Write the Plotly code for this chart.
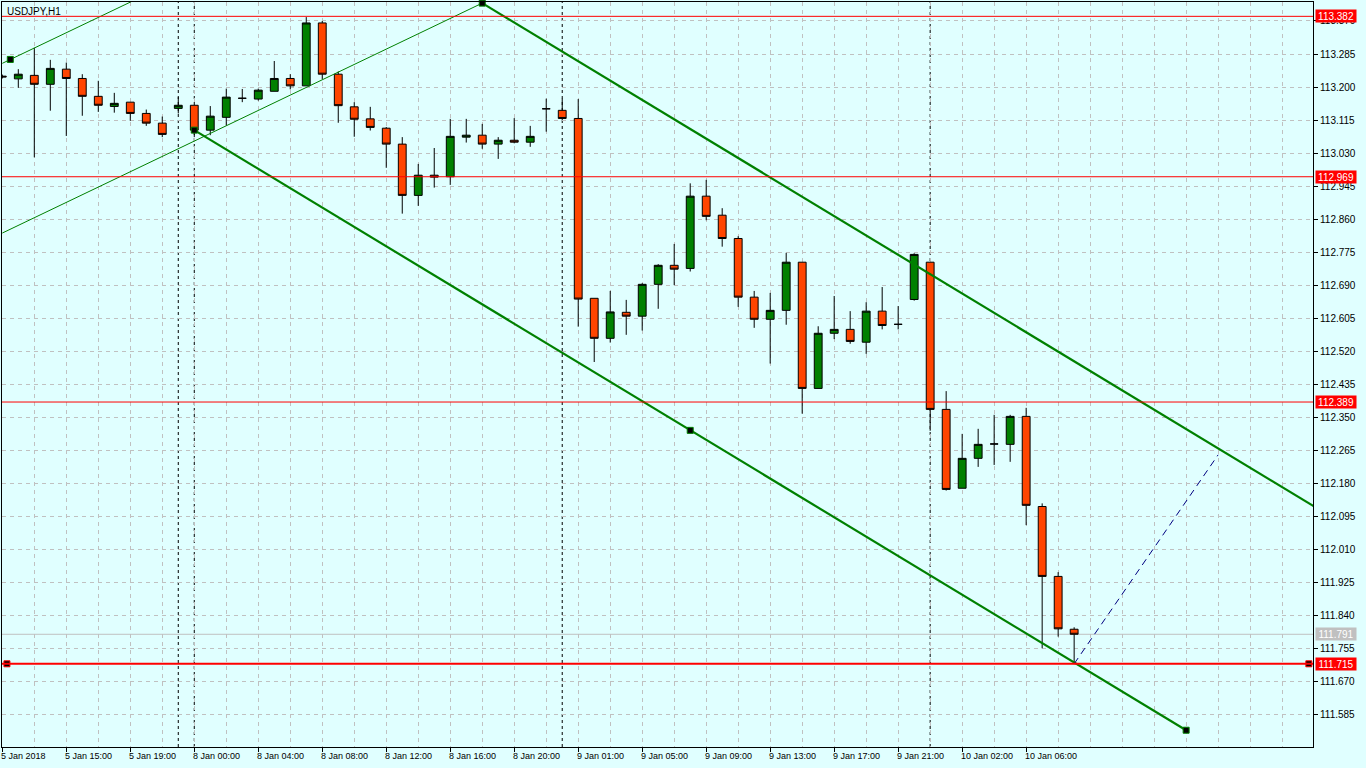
import plotly.graph_objects as go

# ---------------- data ----------------
symbol_title = "USDJPY,H1"

opens = [113.228, 113.221, 113.230, 113.207, 113.246, 113.222, 113.176, 113.150, 113.161, 113.132,
         113.107, 113.145, 113.153, 113.089, 113.122, 113.171, 113.169, 113.189, 113.222, 113.203,
         113.365, 113.233, 113.149, 113.118, 113.094, 113.053, 112.921, 112.973, 112.969, 113.071,
         113.076, 113.053, 113.063, 113.058, 113.144, 113.140, 113.119, 112.656, 112.553, 112.620,
         112.610, 112.692, 112.741, 112.733, 112.919, 112.870, 112.810, 112.659, 112.602, 112.625,
         112.749, 112.424, 112.566, 112.576, 112.543, 112.623, 112.589, 112.653, 112.749, 112.370,
         112.167, 112.244, 112.281, 112.280, 112.352, 112.120, 111.940, 111.804]
highs = [113.232, 113.246, 113.301, 113.270, 113.263, 113.233, 113.216, 113.185, 113.161, 113.142,
         113.124, 113.174, 113.153, 113.151, 113.196, 113.195, 113.196, 113.267, 113.233, 113.380,
         113.370, 113.240, 113.161, 113.149, 113.097, 113.071, 113.002, 113.043, 113.118, 113.118,
         113.105, 113.071, 113.120, 113.100, 113.170, 113.170, 113.169, 112.656, 112.675, 112.652,
         112.695, 112.744, 112.796, 112.952, 112.961, 112.888, 112.816, 112.675, 112.670, 112.773,
         112.749, 112.584, 112.662, 112.623, 112.646, 112.685, 112.636, 112.772, 112.749, 112.417,
         112.307, 112.320, 112.356, 112.356, 112.374, 112.128, 111.951, 111.809]
lows = [113.222, 113.198, 113.019, 113.139, 113.074, 113.126, 113.136, 113.134, 113.113, 113.100,
        113.071, 113.132, 113.071, 113.076, 113.101, 113.161, 113.165, 113.189, 113.194, 113.203,
        113.220, 113.108, 113.072, 113.088, 112.992, 112.874, 112.894, 112.941, 112.948, 113.057,
        113.041, 113.015, 113.055, 113.046, 113.085, 113.115, 112.583, 112.492, 112.542, 112.562,
        112.573, 112.629, 112.690, 112.725, 112.857, 112.789, 112.634, 112.580, 112.488, 112.588,
        112.359, 112.424, 112.551, 112.539, 112.513, 112.576, 112.576, 112.650, 112.315, 112.161,
        112.167, 112.222, 112.227, 112.235, 112.072, 111.755, 111.785, 111.714]
closes = [113.226, 113.233, 113.207, 113.248, 113.222, 113.176, 113.153, 113.158, 113.132, 113.107,
          113.078, 113.153, 113.089, 113.125, 113.174, 113.171, 113.192, 113.222, 113.203, 113.365,
          113.233, 113.152, 113.117, 113.096, 113.053, 112.921, 112.973, 112.968, 113.073, 113.076,
          113.053, 113.063, 113.058, 113.073, 113.144, 113.119, 112.654, 112.553, 112.621, 112.610,
          112.692, 112.741, 112.731, 112.919, 112.867, 112.810, 112.659, 112.602, 112.625, 112.749,
          112.424, 112.566, 112.576, 112.545, 112.623, 112.586, 112.589, 112.769, 112.370, 112.164,
          112.244, 112.280, 112.281, 112.352, 112.123, 111.940, 111.805, 111.791]
bar_index = list(range(len(opens)))

# time axis labels (bar index -> label)
time_tick_index = [0, 4, 8, 12, 16, 20, 24, 28, 32, 36, 40, 44, 48, 52, 56, 60, 64]
time_tick_labels = ["5 Jan 2018", "5 Jan 15:00", "5 Jan 19:00", "8 Jan 00:00", "8 Jan 04:00",
                    "8 Jan 08:00", "8 Jan 12:00", "8 Jan 16:00", "8 Jan 20:00", "9 Jan 01:00",
                    "9 Jan 05:00", "9 Jan 09:00", "9 Jan 13:00", "9 Jan 17:00", "9 Jan 21:00",
                    "10 Jan 02:00", "10 Jan 06:00"]

# price axis labels
price_ticks = [111.585, 111.670, 111.755, 111.840, 111.925, 112.010, 112.095, 112.180, 112.265,
               112.350, 112.435, 112.520, 112.605, 112.690, 112.775, 112.860, 112.945, 113.030,
               113.115, 113.200, 113.285, 113.370]

# horizontal levels
red_levels = [113.382, 112.969, 112.389]
support_level = 111.715
bid_price = 111.791

# vertical separators (bar index)
separator_index = [11, 12, 35, 58]

# trend lines / channels (bar index, price)
thin_low_x, thin_low_y = [0, 30], [112.824, 113.416]
thin_up_x, thin_up_y = [0, 10], [113.261, 113.458]
chan_up_x, chan_up_y = [30, 82], [113.416, 112.120]
chan_low_x, chan_low_y = [12, 74], [113.089, 111.544]
anchor_x = [0.5, 12, 43, 74, 30]
anchor_y = [113.271, 113.089, 112.316, 111.544, 113.416]
proj_x, proj_y = [67, 76], [111.715, 112.253]
handle_x = [0.29, 81.67]

x_range = [-0.019, 81.93]
y_range = [111.5008, 113.4189]

# ---------------- styling ----------------
BG = "#E0FFFF"
GRID = "#C0C0C0"
GREEN = "#008000"
RED_BODY = "#FF4500"
FONT = "Liberation Sans"

fig = go.Figure()

fig.add_trace(go.Candlestick(
    x=bar_index, open=opens, high=highs, low=lows, close=closes,
    increasing=dict(fillcolor=GREEN, line=dict(color="black", width=1)),
    decreasing=dict(fillcolor=RED_BODY, line=dict(color="black", width=1)),
    whiskerwidth=0, showlegend=False, hoverinfo="skip",
))

# trend lines
fig.add_trace(go.Scatter(x=thin_low_x, y=thin_low_y, mode="lines",
                         line=dict(color=GREEN, width=1), showlegend=False, hoverinfo="skip"))
fig.add_trace(go.Scatter(x=thin_up_x, y=thin_up_y, mode="lines",
                         line=dict(color=GREEN, width=1), showlegend=False, hoverinfo="skip"))
fig.add_trace(go.Scatter(x=chan_up_x, y=chan_up_y, mode="lines",
                         line=dict(color=GREEN, width=2.2), showlegend=False, hoverinfo="skip"))
fig.add_trace(go.Scatter(x=chan_low_x, y=chan_low_y, mode="lines",
                         line=dict(color=GREEN, width=2.2), showlegend=False, hoverinfo="skip"))
fig.add_trace(go.Scatter(x=proj_x, y=proj_y, mode="lines",
                         line=dict(color="#000080", width=1, dash="7px,5px"),
                         showlegend=False, hoverinfo="skip"))

# horizontal levels
shapes = []
for sx in separator_index:
    shapes.append(dict(type="line", xref="x", x0=sx, x1=sx, yref="paper", y0=0, y1=1,
                       line=dict(color="black", width=1, dash="3px,3px"), layer="below"))
for lv in red_levels:
    shapes.append(dict(type="line", xref="paper", x0=0, x1=1, yref="y", y0=lv, y1=lv,
                       line=dict(color="#FF0000", width=1), layer="above"))
shapes.append(dict(type="line", xref="paper", x0=0, x1=1, yref="y", y0=bid_price, y1=bid_price,
                   line=dict(color=GRID, width=1), layer="below"))
shapes.append(dict(type="line", xref="paper", x0=0, x1=1, yref="y", y0=support_level, y1=support_level,
                   line=dict(color="#FF0000", width=2), layer="above"))

# anchors / handles
fig.add_trace(go.Scatter(x=anchor_x, y=anchor_y, mode="markers",
                         marker=dict(symbol="square", size=6, color="black",
                                     line=dict(color=GREEN, width=1)),
                         showlegend=False, hoverinfo="skip", cliponaxis=False))
fig.add_trace(go.Scatter(x=handle_x, y=[support_level, support_level], mode="markers",
                         marker=dict(symbol="square", size=6, color="black",
                                     line=dict(color="#FF0000", width=1)),
                         showlegend=False, hoverinfo="skip", cliponaxis=False))

annotations = []
# title
annotations.append(dict(text=symbol_title, xref="paper", yref="paper", x=0, y=1,
                        xanchor="left", yanchor="top", xshift=3, yshift=-2, showarrow=False,
                        font=dict(family=FONT, size=10, color="black")))
# time labels
for ti, tl in zip(time_tick_index, time_tick_labels):
    annotations.append(dict(text=tl, xref="x", yref="paper", x=ti, y=0, xanchor="left",
                            yanchor="top", xshift=-3, yshift=-2, showarrow=False,
                            font=dict(family=FONT, size=9, color="black")))
# price boxes
for lv in red_levels + [support_level]:
    annotations.append(dict(text=f"{lv:.3f}", xref="paper", yref="y", x=1, y=lv,
                            xanchor="left", yanchor="middle", xshift=2, showarrow=False,
                            bgcolor="#FF0000", width=38, height=10, borderpad=1,
                            font=dict(family=FONT, size=10, color="white")))
annotations.append(dict(text=f"{bid_price:.3f}", xref="paper", yref="y", x=1, y=bid_price,
                        xanchor="left", yanchor="middle", xshift=2, showarrow=False,
                        bgcolor=GRID, width=38, height=10, borderpad=1,
                        font=dict(family=FONT, size=10, color="white")))

fig.update_layout(
    width=1366, height=768,
    margin=dict(l=2, r=53, t=2, b=21),
    paper_bgcolor=BG, plot_bgcolor=BG,
    shapes=shapes, annotations=annotations,
    showlegend=False, boxgap=0.3,
    font=dict(family=FONT, size=10, color="black"),
)
fig.update_xaxes(
    range=x_range, rangeslider=dict(visible=False),
    tickmode="array", tickvals=time_tick_index, ticktext=[""] * len(time_tick_index),
    ticks="outside", ticklen=4, tickcolor="black", showticklabels=False,
    showgrid=True, gridcolor=GRID, griddash="4px,4px", gridwidth=1,
    minor=dict(tick0=0, dtick=2, showgrid=True, gridcolor=GRID, griddash="4px,4px", ticks=""),
    showline=True, linecolor="black", linewidth=1, mirror=True, zeroline=False,
)
fig.update_yaxes(
    range=y_range, side="right",
    tickmode="array", tickvals=price_ticks, ticktext=[f"{p:.3f}" for p in price_ticks],
    ticks="outside", ticklen=4, tickcolor="black",
    tickfont=dict(family=FONT, size=10, color="black"),
    showgrid=True, gridcolor=GRID, griddash="4px,4px", gridwidth=1,
    showline=True, linecolor="black", linewidth=1, mirror=True, zeroline=False,
)

fig.write_html("out.html", config={"displayModeBar": False},
               post_script="document.body.style.margin='0';document.body.style.overflow='hidden';")
